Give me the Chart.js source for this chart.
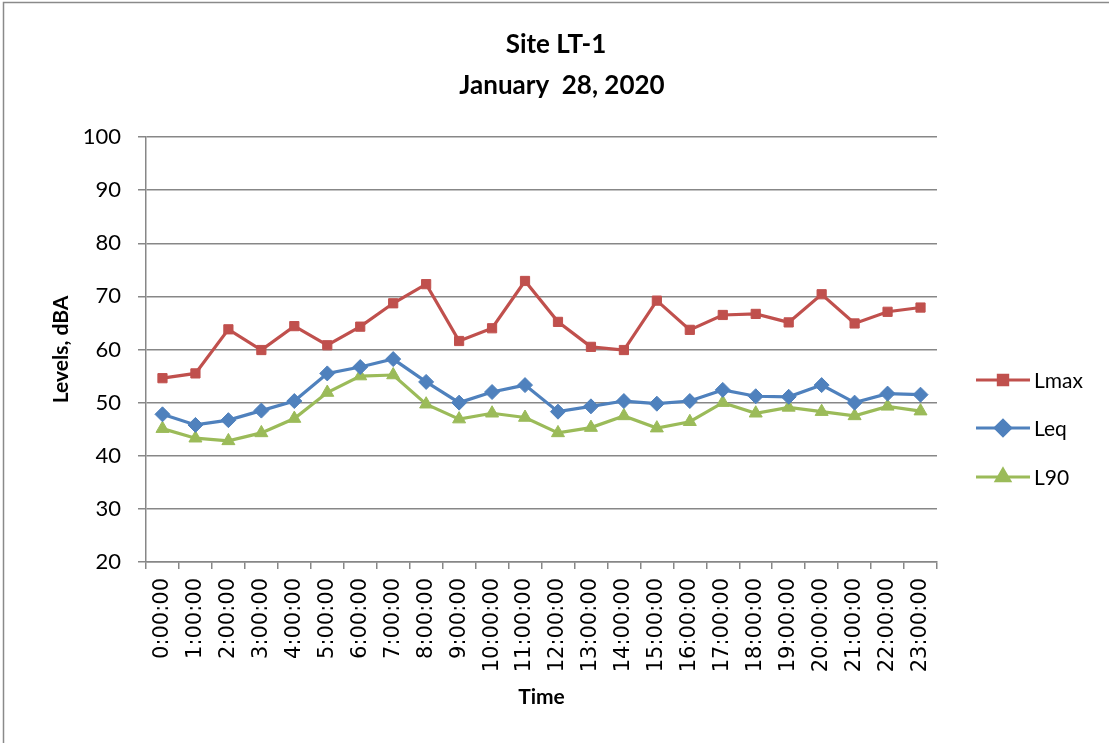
<!DOCTYPE html>
<html>
<head>
<meta charset="utf-8">
<script src="https://cdn.jsdelivr.net/npm/chart.js@4.4.1/dist/chart.umd.min.js"></script>
<style>
html,body{margin:0;padding:0;background:#fff;}
#wrap{width:1109px;height:743px;position:relative;}
</style>
</head>
<body>
<div id="wrap"><canvas id="c" width="1109" height="743"></canvas></div>
<script>
const titleLines = ['Site LT-1', 'January  28, 2020'];
const categories = ['0:00:00','1:00:00','2:00:00','3:00:00','4:00:00','5:00:00','6:00:00','7:00:00','8:00:00','9:00:00','10:00:00','11:00:00','12:00:00','13:00:00','14:00:00','15:00:00','16:00:00','17:00:00','18:00:00','19:00:00','20:00:00','21:00:00','22:00:00','23:00:00'];
const lmax = [54.6,55.5,63.8,59.9,64.4,60.8,64.3,68.7,72.3,61.6,64.0,72.9,65.2,60.5,59.9,69.2,63.7,66.5,66.7,65.1,70.4,64.9,67.1,67.9];
const leq  = [47.8,45.8,46.7,48.5,50.3,55.5,56.7,58.2,53.9,50.0,52.0,53.3,48.3,49.3,50.3,49.8,50.3,52.4,51.2,51.1,53.3,50.0,51.7,51.5];
const l90  = [45.1,43.3,42.8,44.3,47.0,51.9,55.0,55.2,49.7,46.9,48.0,47.2,44.3,45.3,47.5,45.2,46.4,50.0,48.0,49.1,48.3,47.5,49.3,48.4];
const seriesNames = ['Lmax','Leq','L90'];
const yMin = 20, yMax = 100, yStep = 10;
const xTitle = 'Time';
const yTitle = 'Levels, dBA';

const RED = '#C0504D', BLUE = '#4F81BD', GREEN = '#9BBB59';
const GRID = '#878787';

const framePlugin = {
  id: 'frame',
  beforeDraw(chart) {
    const ctx = chart.ctx;
    ctx.save();
    ctx.fillStyle = '#fff';
    ctx.fillRect(0, 0, chart.width, chart.height);
    ctx.strokeStyle = '#8a8a8a';
    ctx.lineWidth = 1.5;
    ctx.beginPath();
    ctx.moveTo(3.5, 760);
    ctx.lineTo(3.5, 2.5);
    ctx.lineTo(1120, 2.5);
    ctx.stroke();
    ctx.restore();
  },
  afterDraw(chart) {
    const ctx = chart.ctx;
    ctx.save();
    ctx.fillStyle = '#000';
    ctx.font = 'bold 26px Lato';
    ctx.textAlign = 'center';
    ctx.textBaseline = 'middle';
    ctx.fillText(titleLines[0], 556, 45);
    ctx.fillText(titleLines[1], 562, 86);
    const ys = [380, 428, 477];
    chart.data.datasets.forEach((ds, i) => {
      const y = ys[i];
      ctx.strokeStyle = ds.borderColor;
      ctx.lineWidth = 3.2;
      ctx.beginPath();
      ctx.moveTo(976, y);
      ctx.lineTo(1030, y);
      ctx.stroke();
      ctx.fillStyle = ds.pointBackgroundColor;
      ctx.strokeStyle = ds.pointBorderColor;
      Chart.helpers.drawPoint(ctx, {
        pointStyle: ds.pointStyle,
        rotation: 0,
        radius: ds.pointRadius,
        borderWidth: 1
      }, 1003, y);
      ctx.fillStyle = '#000';
      ctx.font = '21px Lato';
      ctx.textAlign = 'left';
      ctx.textBaseline = 'middle';
      ctx.fillText(ds.label, 1034, y + 1);
    });
    ctx.restore();
  }
};

function mk(label, data, color, style, r) {
  return {
    label, data,
    borderColor: color,
    backgroundColor: color,
    pointBackgroundColor: color,
    pointBorderColor: color,
    pointStyle: style,
    pointRadius: r,
    pointHoverRadius: r,
    pointBorderWidth: 1,
    borderWidth: 3.2,
    tension: 0
  };
}

new Chart(document.getElementById('c'), {
  type: 'line',
  data: {
    labels: categories,
    datasets: [
      mk(seriesNames[0], lmax, RED, 'rect', 6.5),
      mk(seriesNames[1], leq, BLUE, 'rectRot', 7.5),
      mk(seriesNames[2], l90, GREEN, 'triangle', 7.5)
    ]
  },
  plugins: [framePlugin],
  options: {
    responsive: false,
    animation: false,
    events: [],
    layout: { padding: { left: 4, right: 172, top: 137, bottom: 0 } },
    plugins: {
      legend: { display: false },
      title: { display: false },
      tooltip: { enabled: false }
    },
    scales: {
      x: {
        offset: true,
        grid: {
          offset: true,
          drawOnChartArea: false,
          drawTicks: true,
          tickLength: 7,
          color: GRID,
          lineWidth: 1.5
        },
        border: { display: true, color: GRID, width: 1.5 },
        ticks: {
          autoSkip: false,
          maxRotation: 90,
          minRotation: 90,
          padding: 9,
          color: '#000',
          font: { family: "'DejaVu Sans', Verdana, sans-serif", size: 21 }
        },
        title: {
          display: true,
          text: xTitle,
          color: '#000',
          font: { family: 'Lato', size: 21, weight: 'bold' },
          padding: { top: 0, bottom: 33 }
        },
        afterFit(scale) { scale.height = 181; }
      },
      y: {
        min: yMin,
        max: yMax,
        ticks: {
          stepSize: yStep,
          padding: 17,
          color: '#000',
          font: { family: 'Lato', size: 22 }
        },
        grid: {
          color: GRID,
          lineWidth: 1.5,
          tickLength: 8
        },
        border: { display: true, color: GRID, width: 1.5 },
        title: {
          display: true,
          text: yTitle,
          color: '#000',
          font: { family: 'Lato', size: 21, weight: 'bold' },
          padding: { top: 45, bottom: 0 }
        },
        afterFit(scale) { scale.width = 142; }
      }
    }
  }
});
</script>
</body>
</html>
